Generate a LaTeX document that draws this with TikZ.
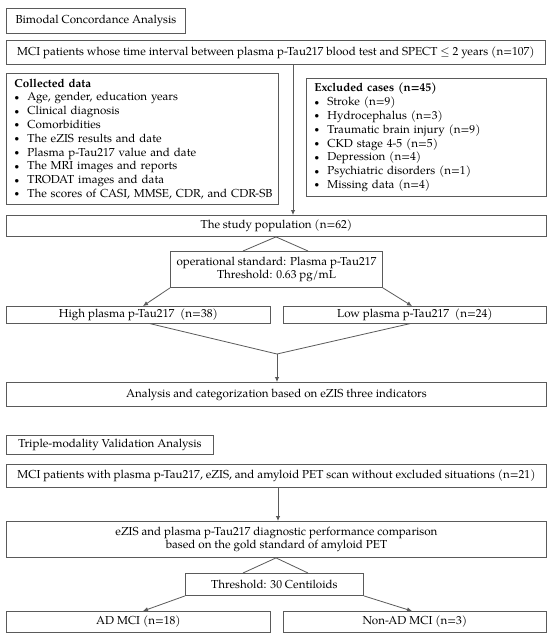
\documentclass[tikz,border=0pt]{standalone}
\usepackage{fontspec}
\setmainfont{texgyrepagella}[Extension=.otf,UprightFont=*-regular,BoldFont=*-bold,ItalicFont=*-italic,BoldItalicFont=*-bolditalic]
\usetikzlibrary{arrows.meta,calc}
\definecolor{bordergray}{HTML}{5A5A5A}
\newcommand\fs{\fontsize{11.6}{13.8}\selectfont}
\newcommand\blt{\makebox[13pt][l]{\raisebox{0.6pt}{\fontsize{9}{9}\selectfont\textbullet}}}
\begin{document}
\begin{tikzpicture}[x=1pt,y=-1pt,
  box/.style={draw=bordergray, line width=0.9pt, inner sep=0pt, anchor=north west, align=center, font=\fs},
  listbox/.style={box, align=left, inner xsep=8pt},
  ln/.style={draw=bordergray, line width=0.8pt},
  arr/.style={ln, -{Latex[length=5pt,width=4.5pt]}}]
\useasboundingbox[fill=white] (0,0) rectangle (550,637);

\node[box, minimum width=179pt, minimum height=25pt] (bim) at (6,8) {Bimodal Concordance Analysis};
\node[box, minimum width=539pt, minimum height=24pt] (mci) at (6,40) {MCI patients whose time interval between plasma p-Tau217 blood test and SPECT $\leq$ 2 years (n=107)};
\node[listbox, minimum width=272pt, minimum height=131pt, text width=256pt] (col) at (6,73) {\textbf{Collected data}\\
\blt Age, gender, education years\\
\blt Clinical diagnosis\\
\blt Comorbidities\\
\blt The eZIS results and date\\
\blt Plasma p-Tau217 value and date\\
\blt The MRI images and reports\\
\blt TRODAT images and data\\
\mbox{\blt The scores of CASI, MMSE, CDR, and CDR-SB}};
\node[listbox, minimum width=240pt, minimum height=118pt, text width=224pt] (exc) at (306,78) {\textbf{Excluded cases (n=45)}\\
\blt Stroke (n=9)\\
\blt Hydrocephalus (n=3)\\
\blt Traumatic brain injury (n=9)\\
\blt CKD stage 4-5 (n=5)\\
\blt Depression (n=4)\\
\blt Psychiatric disorders (n=1)\\
\blt Missing data (n=4)};
\node[box, minimum width=540pt, minimum height=21pt] (study) at (6,215) {The study population (n=62)};
\node[box, minimum width=212pt, minimum height=36pt] (op) at (170,251) {operational standard: Plasma p-Tau217\\Threshold: 0.63 pg/mL};
\node[box, minimum width=264pt, minimum height=16.5pt] (high) at (6,306) {High plasma p-Tau217~ (n=38)};
\node[box, minimum width=263pt, minimum height=16.5pt] (low) at (283,306) {Low plasma p-Tau217~ (n=24)};
\node[box, minimum width=540pt, minimum height=24pt] (ana) at (6,382) {Analysis and categorization based on eZIS three indicators};

\node[box, minimum width=207pt, minimum height=19pt] (tri) at (6,435) {Triple-modality Validation Analysis};
\node[box, minimum width=540pt, minimum height=23pt] (mci2) at (6,464) {MCI patients with plasma p-Tau217, eZIS, and amyloid PET scan without excluded situations (n=21)};
\node[box, minimum width=540pt, minimum height=36pt] (ezis) at (6,521) {eZIS and plasma p-Tau217 diagnostic performance comparison\\based on the gold standard of amyloid PET};
\node[box, minimum width=178pt, minimum height=22pt] (thr) at (185,573) {Threshold: 30 Centiloids};
\node[box, minimum width=264pt, minimum height=21pt] (ad) at (6,611) {AD MCI (n=18)};
\node[box, minimum width=263pt, minimum height=21pt] (nonad) at (283,611) {Non-AD MCI (n=3)};

\coordinate (xa) at (293,0);
\coordinate (ap) at (276,0);
\coordinate (lg) at (243,0);
\coordinate (rg) at (308,0);
\coordinate (hl) at (143,0);
\coordinate (lr) at (412,0);
\coordinate (hb) at (149,0);
\coordinate (lb) at (411,0);
\coordinate (j) at (277,354);
\coordinate (xb) at (278,0);

\draw[arr] (mci.south -| xa) -- (study.north -| xa);
\draw[ln] (op.north -| lg) -- (study.south -| ap) -- (op.north -| rg);
\draw[arr] (op.south west) -- (high.north -| hl);
\draw[arr] (op.south east) -- (low.north -| lr);
\draw[ln] (high.south -| hb) -- (j) -- (low.south -| lb);
\draw[arr] (j) -- (ana.north -| j);

\draw[arr] (mci2.south -| xb) -- (ezis.north -| xb);
\draw[ln] (thr.north -| lg) -- (ezis.south -| ap) -- (thr.north -| rg);
\draw[arr] (thr.south west) -- (ad.north -| hl);
\draw[arr] (thr.south east) -- (nonad.north -| lr);
\end{tikzpicture}
\end{document}
